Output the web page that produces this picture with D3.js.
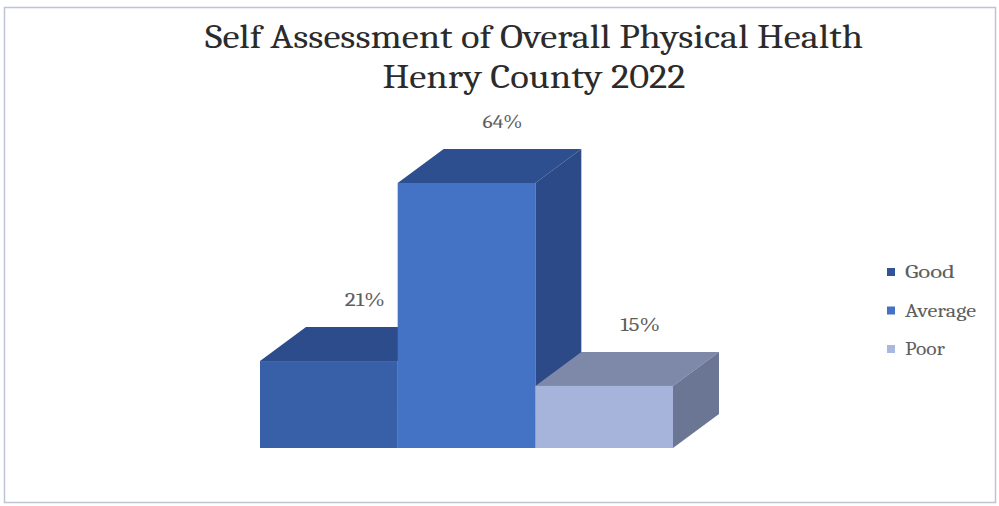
<!DOCTYPE html>
<html>
<head>
<meta charset="utf-8">
<script src="https://cdn.jsdelivr.net/npm/d3@7"></script>
<style>
  html, body { margin: 0; padding: 0; background: #ffffff; }
  svg { display: block; }
</style>
</head>
<body>
<svg id="chart" width="999" height="506"></svg>
<script>
// Survey responses: share of residents rating their own physical health
const categories = ["Good", "Average", "Poor"];
const values = [21, 64, 15];
const valueLabels = ["21%", "64%", "15%"];
const titleLines = ["Self Assessment of Overall Physical Health", "Henry County 2022"];

// Face shading for each column: front, top, right side
const frontColors = ["#3760a8", "#4472c4", "#a6b4dc"];
const topColors   = ["#2c4c8b", "#2e4f8f", "#7e88a8"];
const sideColors  = ["#27447c", "#2b4a87", "#6b7594"];
const legendColors = ["#2f5597", "#4472c4", "#a9b8de"];

const svg = d3.select("#chart");

// Chart frame
svg.append("rect")
  .attr("x", 4.5).attr("y", 7.5)
  .attr("width", 991).attr("height", 495)
  .attr("fill", "#ffffff")
  .attr("stroke", "#bcc4d6").attr("stroke-width", 1.5);

// Title
const serif = "Cambria, 'Liberation Serif', 'DejaVu Serif', serif";
const titleG = svg.append("g");
const titleWidths = [658, 303];
titleLines.forEach((t, i) => {
  titleG.append("text")
    .attr("x", 534).attr("y", 48 + i * 40)
    .attr("text-anchor", "middle")
    .attr("font-family", serif)
    .attr("font-size", 33)
    .attr("fill", "#2b2b2b")
    .attr("textLength", titleWidths[i])
    .attr("lengthAdjust", "spacingAndGlyphs")
    .text(t);
});

// Scales
const x = d3.scaleBand().domain(categories).range([260, 673]).padding(0);
const y = d3.scaleLinear().domain([0, 64]).range([448, 183]);
const depthX = 46, depthY = -34;

const bars = svg.append("g");
categories.forEach((c, i) => {
  const x0 = x(c), x1 = x(c) + x.bandwidth();
  const yT = y(values[i]), yB = y(0);
  const g = bars.append("g");
  // top face
  g.append("path")
    .attr("d", `M${x0},${yT} L${x0 + depthX},${yT + depthY} L${x1 + depthX},${yT + depthY} L${x1},${yT} Z`)
    .attr("fill", topColors[i]);
  // right side face
  g.append("path")
    .attr("d", `M${x1},${yT} L${x1 + depthX},${yT + depthY} L${x1 + depthX},${yB + depthY} L${x1},${yB} Z`)
    .attr("fill", sideColors[i]);
  // front face
  g.append("rect")
    .attr("x", x0).attr("y", yT)
    .attr("width", x1 - x0).attr("height", yB - yT)
    .attr("fill", frontColors[i]);
});

// Value labels above each column
categories.forEach((c, i) => {
  svg.append("text")
    .attr("x", x(c) + x.bandwidth() / 2 + 36)
    .attr("y", y(values[i]) - 55)
    .attr("text-anchor", "middle")
    .attr("font-family", serif)
    .attr("font-size", 19)
    .attr("fill", "#5e5e5e")
    .attr("textLength", 40)
    .attr("lengthAdjust", "spacingAndGlyphs")
    .text(valueLabels[i]);
});

// Legend
const legendWidths = [50, 71, 40];
const legend = svg.append("g");
categories.forEach((c, i) => {
  const ly = 272 + i * 38.5;
  legend.append("rect")
    .attr("x", 887).attr("y", ly - 4)
    .attr("width", 8).attr("height", 8)
    .attr("fill", legendColors[i]);
  legend.append("text")
    .attr("x", 905).attr("y", ly + 6)
    .attr("font-family", serif)
    .attr("font-size", 19)
    .attr("fill", "#5e5e5e")
    .attr("textLength", legendWidths[i])
    .attr("lengthAdjust", "spacingAndGlyphs")
    .text(c);
});
</script>
</body>
</html>
